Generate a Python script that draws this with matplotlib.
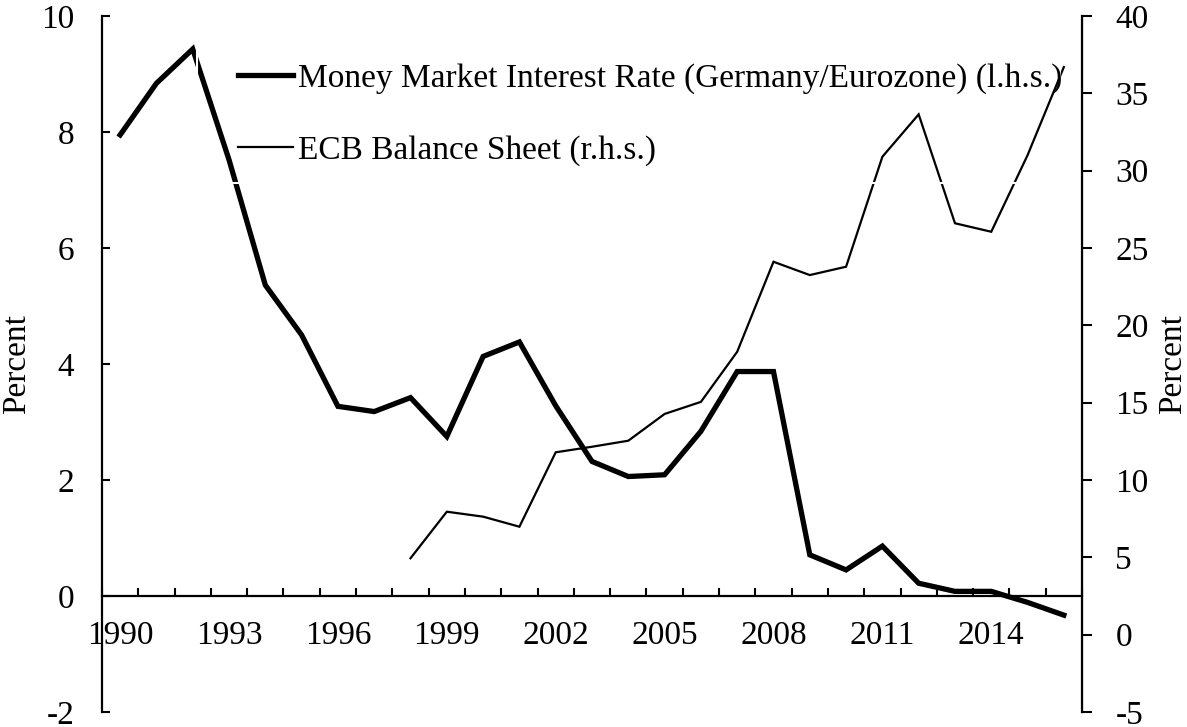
import numpy as np
import matplotlib
matplotlib.use("Agg")
from matplotlib import pyplot as plt
from matplotlib.ticker import FixedLocator
from matplotlib.patches import Rectangle

plt.rcParams['font.family'] = ['Liberation Serif', 'DejaVu Serif']
plt.rcParams['axes.unicode_minus'] = False

years = list(range(1990, 2017))
rate = [7.95, 8.84, 9.43, 7.52, 5.36, 4.50, 3.27, 3.18, 3.42, 2.75,
        4.13, 4.38, 3.28, 2.32, 2.06, 2.09, 2.84, 3.87, 3.87, 0.71,
        0.45, 0.86, 0.22, 0.08, 0.08, -0.11, -0.33]
ecb_years = list(range(1998, 2017))
ecb = [4.94, 7.95, 7.63, 6.98, 11.79, 12.15, 12.54, 14.27, 15.05, 18.29,
       24.11, 23.25, 23.79, 30.9, 33.64, 26.6, 26.05, 31.0, 36.7]
label_years = [1990, 1993, 1996, 1999, 2002, 2005, 2008, 2011, 2014]

fs = 24
fig = plt.figure(figsize=(11.87, 7.27), dpi=100)
ax = fig.add_axes([102/1187, 15/727, 980/1187, 696/727])
ax2 = ax.twinx()

l1, = ax.plot(years, rate, color='black', lw=3.8, solid_joinstyle='miter',
              label='Money Market Interest Rate (Germany/Eurozone) (l.h.s.)')
l2, = ax2.plot(ecb_years, ecb, color='black', lw=1.6, solid_joinstyle='miter',
               label='ECB Balance Sheet (r.h.s.)')

ax.set_xlim(1989.5, 2016.5)
ax.set_ylim(-2, 10)
ax2.set_ylim(-5, 40)

ax.spines['top'].set_visible(False)
ax2.spines['top'].set_visible(False)
ax.spines['bottom'].set_position(('data', 0))
ax2.spines['bottom'].set_visible(False)
for s in ['left', 'bottom']:
    ax.spines[s].set_linewidth(1.6)
ax2.spines['right'].set_linewidth(1.6)
ax2.spines['left'].set_visible(False)

ax.set_xticks(label_years)
ax.set_xticklabels([str(y) for y in label_years])
ax.xaxis.set_minor_locator(FixedLocator(np.arange(1989.5, 2017, 1)))
ax.tick_params(axis='x', which='major', length=0, pad=18, labelsize=fs)
ax.tick_params(axis='x', which='minor', direction='in', length=6, width=1.5)
ax.set_yticks(range(-2, 11, 2))
ax.tick_params(axis='y', direction='in', length=6, width=1.5, pad=20, labelsize=fs)
ax2.set_yticks(range(-5, 41, 5))
ax2.tick_params(axis='y', direction='out', length=7, width=1.5, pad=17, labelsize=fs)

ax.set_ylabel('Percent', fontsize=fs)
ax.yaxis.set_label_coords(-0.0714, 0.5)
ax2.set_ylabel('Percent', fontsize=fs)
ax2.yaxis.set_label_coords(1.0776, 0.5)

# legend box: white border only, it cuts small gaps into the lines crossing it
ax2.add_patch(Rectangle((0.097, 0.760), 0.881, 0.205, transform=ax2.transAxes,
                        facecolor='none', edgecolor='white', lw=1.5, zorder=4))
leg = ax2.legend(handles=[l1, l2], loc='upper left', bbox_to_anchor=(0.124, 0.9533),
                 fontsize=fs, frameon=False, handlelength=1.63,
                 handletextpad=0.15, labelspacing=1.24, borderpad=0.44,
                 borderaxespad=0)
leg.set_zorder(5)

fig.savefig('out.png', dpi=100)
